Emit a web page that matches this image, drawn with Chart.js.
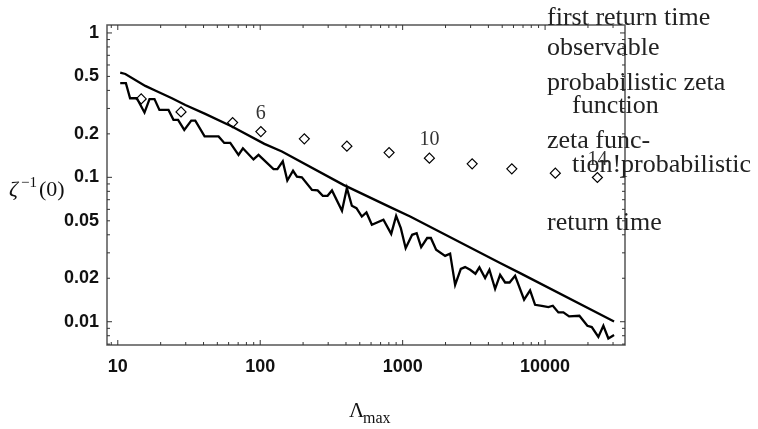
<!DOCTYPE html>
<html>
<head>
<meta charset="utf-8">
<script src="https://cdn.jsdelivr.net/npm/chart.js@4.4.1/dist/chart.umd.min.js"></script>
<style>
html, body { margin: 0; padding: 0; background: #fff; }
</style>
</head>
<body>
<canvas id="zetaChart" width="758" height="429"></canvas>
<script>
// values (log-log plot)
var curveX = [10.4, 11.3, 15.6, 18.3, 24.0, 29.8, 41.1, 63.3, 107, 142, 384, 817, 1129, 4833, 6678, 30500];
var curveY = [0.531, 0.520, 0.430, 0.399, 0.353, 0.317, 0.275, 0.2247, 0.1705, 0.151, 0.0887, 0.0622, 0.0535, 0.0255, 0.0217, 0.01005];

var jaggedX = [10.4, 11.4, 12.2, 13.6, 15.4, 16.7, 18.1, 19.6, 22.7, 24.6,
    26.5, 29.3, 32.8, 35.0, 40.7, 51.0, 55.9, 61.6, 70.4, 75.6,
    89.7, 97.3, 124, 132, 144, 155, 170, 181, 196, 231,
    253, 275, 297, 319, 375, 406, 440, 474, 517, 557,
    608, 733, 831, 900, 971, 1050, 1166, 1254, 1349, 1486,
    1578, 1718, 1987, 2154, 2336, 2561, 2745, 2977, 3243, 3459,
    3793, 4066, 4458, 4833, 5241, 5635, 6158, 7123, 7846, 8507,
    9479, 10550, 11330, 12400, 13440, 14740, 17410, 19810, 21270, 23660,
    25660, 27810, 30500];
var jaggedY = [0.449, 0.449, 0.353, 0.353, 0.281, 0.348, 0.348, 0.293, 0.293, 0.250,
    0.250, 0.213, 0.247, 0.247, 0.192, 0.192, 0.173, 0.173, 0.143, 0.159,
    0.133, 0.143, 0.114, 0.114, 0.129, 0.095, 0.111, 0.101, 0.100, 0.0819,
    0.0811, 0.0745, 0.0745, 0.0811, 0.0586, 0.0842, 0.0635, 0.0612, 0.0535, 0.0571,
    0.0469, 0.0508, 0.0406, 0.0541, 0.0445, 0.0323, 0.0400, 0.0410, 0.0329, 0.0380,
    0.0380, 0.0315, 0.0286, 0.0296, 0.0180, 0.0232, 0.0239, 0.0229, 0.0215, 0.0238,
    0.0201, 0.0229, 0.0169, 0.0211, 0.0187, 0.0187, 0.0208, 0.0142, 0.0165, 0.0131,
    0.0129, 0.01264, 0.0129, 0.0116, 0.0116, 0.01088, 0.0110, 0.00938, 0.00919, 0.00784,
    0.00938, 0.00766, 0.00809];

var diamondX = [14.6, 27.8, 64, 101, 204, 406, 803, 1541, 3076, 5840, 11800, 23300];
var diamondY = [0.3494, 0.284, 0.2394, 0.2075, 0.1847, 0.1644, 0.1484, 0.1358, 0.124, 0.1145, 0.1069, 0.0997];
var diamondNoteIndex = [3, 7, 11];
var diamondNotes = ['6', '10', '14'];

var xTickLabels = [10, 100, 1000, 10000];
var yTickLabels = [1, 0.5, 0.2, 0.1, 0.05, 0.02, 0.01];

// stray index entries printed to the right of the plot
var indexText = ['first return time', 'observable', 'probabilistic zeta', 'function', 'zeta func-', 'tion!probabilistic', 'return time'];
var indexIndent = [0, 0, 0, 1, 0, 1, 0];
var indexBaseline = [25, 55, 90, 113, 148, 172, 230];

function toPoints(xs, ys) {
    return xs.map(function (x, i) { return { x: x, y: ys[i] }; });
}

function minorTicks(lo, hi) {
    var out = [];
    for (var d = Math.floor(Math.log10(lo)); d <= Math.ceil(Math.log10(hi)); d++) {
        for (var m = 1; m < 10; m++) {
            var v = m * Math.pow(10, d);
            if (v >= lo && v <= hi) out.push({ v: v, major: m === 1 });
        }
    }
    return out;
}

var framePlugin = {
    id: 'frame',
    afterDraw: function (chart) {
        var ctx = chart.ctx;
        var a = chart.chartArea;
        var xs = chart.scales.x, ys = chart.scales.y;
        ctx.save();
        ctx.strokeStyle = '#555';
        ctx.lineWidth = 1.5;
        ctx.strokeRect(a.left, a.top, a.right - a.left, a.bottom - a.top);

        // inward ticks on all four sides
        ctx.lineWidth = 1;
        ctx.strokeStyle = '#333';
        minorTicks(xs.min, xs.max).forEach(function (t) {
            var px = xs.getPixelForValue(t.v);
            var len = t.major ? 5 : 3;
            ctx.beginPath();
            ctx.moveTo(px, a.bottom); ctx.lineTo(px, a.bottom - len);
            ctx.moveTo(px, a.top); ctx.lineTo(px, a.top + len);
            ctx.stroke();
        });
        minorTicks(ys.min, ys.max).forEach(function (t) {
            var py = ys.getPixelForValue(t.v);
            var len = t.major ? 5 : 3;
            ctx.beginPath();
            ctx.moveTo(a.left, py); ctx.lineTo(a.left + len, py);
            ctx.moveTo(a.right, py); ctx.lineTo(a.right - len, py);
            ctx.stroke();
        });

        // cycle length notes above diamonds
        ctx.fillStyle = '#333';
        ctx.font = '20px "Liberation Serif"';
        ctx.textAlign = 'center';
        ctx.textBaseline = 'middle';
        diamondNoteIndex.forEach(function (k, i) {
            var px = xs.getPixelForValue(diamondX[k]);
            var py = ys.getPixelForValue(diamondY[k]);
            ctx.fillText(diamondNotes[i], px, py - 18);
        });

        // axis titles
        ctx.fillStyle = '#111';
        ctx.textAlign = 'left';
        ctx.textBaseline = 'alphabetic';
        ctx.font = 'italic 22px "Liberation Serif"';
        ctx.fillText('\u03b6', 9, 196);
        ctx.font = '15px "Liberation Serif"';
        ctx.fillText('\u22121', 21, 187);
        ctx.font = '22px "Liberation Serif"';
        ctx.fillText('(0)', 39, 196);

        ctx.font = '21px "Liberation Serif"';
        ctx.fillText('\u039b', 349, 417);
        ctx.font = '16px "Liberation Serif"';
        ctx.fillText('max', 363, 423);

        // index entries
        ctx.fillStyle = '#222';
        ctx.font = '26px "Liberation Serif"';
        indexText.forEach(function (s, i) {
            ctx.fillText(s, indexIndent[i] ? 572 : 547, indexBaseline[i]);
        });
        ctx.restore();
    }
};

var tickFont = { family: '"Liberation Sans", Arial, sans-serif', size: 18, weight: 'bold' };

new Chart(document.getElementById('zetaChart').getContext('2d'), {
    type: 'scatter',
    data: {
        datasets: [
            {
                data: toPoints(curveX, curveY),
                showLine: true,
                borderColor: '#000',
                borderWidth: 2.3,
                pointRadius: 0,
                tension: 0
            },
            {
                data: toPoints(jaggedX, jaggedY),
                showLine: true,
                borderColor: '#000',
                borderWidth: 2.3,
                pointRadius: 0,
                tension: 0
            },
            {
                data: toPoints(diamondX, diamondY),
                showLine: false,
                pointStyle: 'rectRot',
                pointRadius: 5,
                backgroundColor: '#fff',
                borderColor: '#000',
                borderWidth: 1.2
            }
        ]
    },
    options: {
        responsive: false,
        animation: false,
        layout: { padding: { top: 25, right: 133, left: 0, bottom: 0 } },
        plugins: { legend: { display: false }, tooltip: { enabled: false } },
        scales: {
            x: {
                type: 'logarithmic',
                min: 8.4,
                max: 36400,
                grid: { display: false, drawTicks: false },
                border: { display: false },
                afterBuildTicks: function (scale) {
                    scale.ticks = xTickLabels.map(function (v) { return { value: v }; });
                },
                afterFit: function (scale) { scale.height = 84; },
                ticks: {
                    autoSkip: false,
                    maxRotation: 0,
                    padding: 11,
                    color: '#111',
                    font: tickFont,
                    callback: function (value) { return String(value); }
                }
            },
            y: {
                type: 'logarithmic',
                min: 0.0069,
                max: 1.135,
                grid: { display: false, drawTicks: false },
                border: { display: false },
                afterBuildTicks: function (scale) {
                    scale.ticks = yTickLabels.map(function (v) { return { value: v }; });
                },
                afterFit: function (scale) { scale.width = 107; },
                ticks: {
                    autoSkip: false,
                    padding: 8,
                    color: '#111',
                    font: tickFont,
                    callback: function (value) { return String(value); }
                }
            }
        }
    },
    plugins: [framePlugin]
});
</script>
</body>
</html>
